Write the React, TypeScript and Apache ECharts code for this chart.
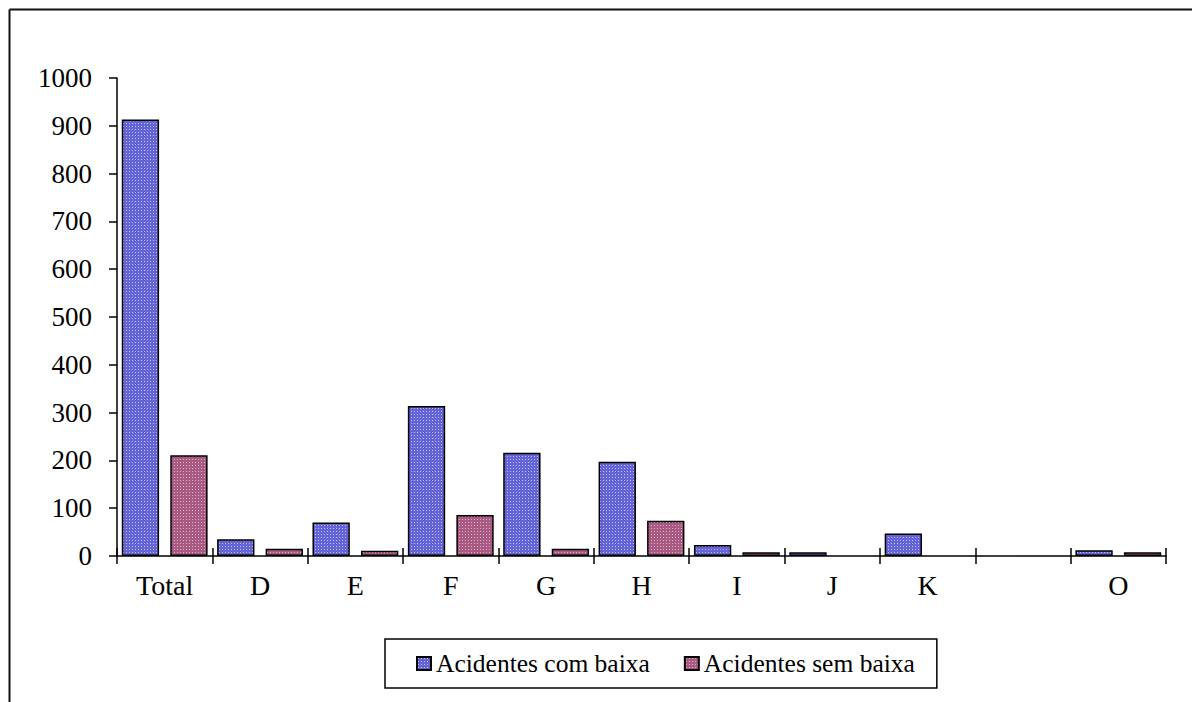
import React, { useEffect, useRef } from "react";
import * as echarts from "echarts";

const categories = ["Total", "D", "E", "F", "G", "H", "I", "J", "K", "", "O"];
const comBaixa = [913, 35, 70, 314, 216, 197, 23, 8, 47, 0, 12];
const semBaixa = [211, 15, 11, 86, 15, 74, 8, 0, 0, 0, 8];
const seriesNames = ["Acidentes com baixa", "Acidentes sem baixa"];
const yTicks = { min: 0, max: 1000, interval: 100 };

function makePattern(base: string, light: string) {
  const c = document.createElement("canvas");
  c.width = 3;
  c.height = 3;
  const ctx = c.getContext("2d")!;
  ctx.fillStyle = base;
  ctx.fillRect(0, 0, 3, 3);
  ctx.fillStyle = light;
  ctx.fillRect(1, 1, 1, 1);
  return { image: c, repeat: "repeat" } as any;
}

const FONT = "Liberation Serif";
const toBar = (v: number) => (v === 0 ? "-" : v);

export default function App() {
  const ref = useRef<HTMLDivElement>(null);
  useEffect(() => {
    if (!ref.current) return;
    const chart = echarts.init(ref.current, undefined, { renderer: "svg" });
    const bluePat = makePattern("#6464d6", "#c0c0f4");
    const pinkPat = makePattern("#a85a82", "#e0b0c8");
    const W = 1192;
    const H = 694;
    chart.setOption({
      animation: false,
      backgroundColor: "#fff",
      textStyle: { fontFamily: FONT, color: "#000" },
      grid: { left: 109, right: 34, top: 70, bottom: 146 },
      legend: {
        data: seriesNames,
        left: 377,
        top: 631,
        orient: "horizontal",
        icon: "rect",
        padding: [9, 22, 9, 31],
        itemWidth: 14,
        itemHeight: 13,
        itemGap: 34,
        borderColor: "#000",
        borderWidth: 1.5,
        borderRadius: 0,
        textStyle: { fontFamily: FONT, fontSize: 25.5, color: "#000", lineHeight: 31 },
      },
      xAxis: [
        {
          type: "category",
          data: categories,
          position: "bottom",
          boundaryGap: true,
          axisLine: { show: true, lineStyle: { color: "#000", width: 1.5 } },
          axisTick: { show: true, inside: true, length: 8, lineStyle: { color: "#000", width: 1.5 } },
          axisLabel: { show: true, margin: 15, fontSize: 28, fontFamily: FONT, color: "#000", interval: 0 },
          splitLine: { show: false },
        },
        {
          type: "category",
          data: categories,
          position: "bottom",
          boundaryGap: true,
          axisLine: { show: false },
          axisTick: { show: true, inside: false, length: 8, lineStyle: { color: "#000", width: 1.5 } },
          axisLabel: { show: false },
          splitLine: { show: false },
        },
      ],
      yAxis: {
        type: "value",
        min: yTicks.min,
        max: yTicks.max,
        interval: yTicks.interval,
        axisLine: { show: true, lineStyle: { color: "#000", width: 1.5 } },
        axisTick: { show: true, inside: false, length: 8, lineStyle: { color: "#000", width: 1.5 } },
        axisLabel: {
          margin: 25,
          fontSize: 27,
          fontFamily: FONT,
          color: "#000",
          formatter: (v: number) => String(v),
        },
        splitLine: { show: false },
      },
      series: [
        {
          name: seriesNames[0],
          type: "bar",
          xAxisIndex: 0,
          data: comBaixa.map(toBar),
          barGap: "30%",
          barCategoryGap: "10%",
          itemStyle: { color: bluePat, borderColor: "#000", borderWidth: 1.5 },
        },
        {
          name: seriesNames[1],
          type: "bar",
          xAxisIndex: 0,
          data: semBaixa.map(toBar),
          barGap: "30%",
          barCategoryGap: "10%",
          itemStyle: { color: pinkPat, borderColor: "#000", borderWidth: 1.5 },
        },
      ],
      graphic: [
        { type: "line", shape: { x1: 1.5, y1: 1.5, x2: 1.5, y2: H }, style: { stroke: "#111", lineWidth: 2 } },
        { type: "line", shape: { x1: 1.5, y1: 1.5, x2: W, y2: 1.5 }, style: { stroke: "#111", lineWidth: 2 } },
      ],
    });
    return () => chart.dispose();
  }, []);
  return <div ref={ref} style={{ width: 1192, height: 694 }} />;
}
